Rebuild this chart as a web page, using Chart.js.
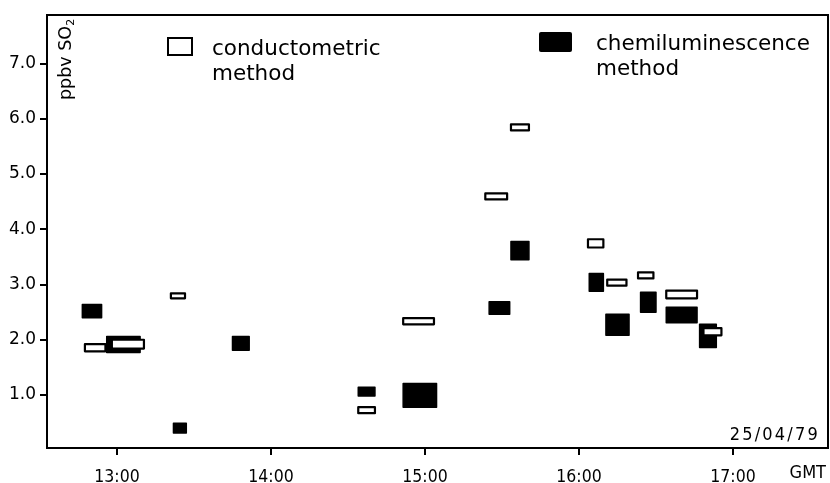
<!DOCTYPE html>
<html><head><meta charset="utf-8">
<script src="https://cdn.jsdelivr.net/npm/chart.js@4.4.0/dist/chart.umd.min.js"></script>
<style>
html,body{margin:0;padding:0;background:#fff;}
#wrap{position:relative;width:830px;height:483px;overflow:hidden;}
canvas{position:absolute;left:0;top:0;}
.t{position:absolute;color:#000;white-space:nowrap;font-family:"DejaVu Sans",sans-serif;}
.n{font-family:"DejaVu Sans Condensed","DejaVu Sans",sans-serif;}
</style></head><body>
<div id="wrap">
<canvas id="c" width="830" height="483"></canvas>
<div class="t" id="ylab" style="left:55px;top:100px;font-size:17.5px;line-height:20px;transform:rotate(-90deg);transform-origin:left top;">ppbv SO<sub style="font-size:11px;vertical-align:-3px;">2</sub></div>
<div class="t" style="left:167px;top:37px;width:26px;height:19px;border:2px solid #000;box-sizing:border-box;background:#fff;"></div>
<div class="t" style="left:212px;top:35px;font-size:21.5px;line-height:25px;">conductometric<br>method</div>
<div class="t" style="left:539px;top:32px;width:33px;height:20px;background:#000;border-radius:2px;"></div>
<div class="t" style="left:596px;top:30px;font-size:21.5px;line-height:25px;">chemiluminescence<br>method</div>
<div class="t n" style="right:10px;top:425px;font-size:18px;line-height:18px;letter-spacing:2.2px;">25/04/79</div>
<div class="t n" style="right:4px;top:463px;font-size:18px;line-height:18px;">GMT</div>
</div>
<script>
// Conductometric method (open boxes): time span and SO2 range (ppbv)
const condStart = ["12:47.5","12:58","13:21","14:34","14:51.5","15:23.5","15:33.5","16:03.5","16:11","16:23","16:34","16:48.5"];
const condEnd   = ["12:55.5","13:10.5","13:26.5","14:40.5","15:03.5","15:32","15:40.5","16:09.5","16:18.5","16:29","16:46","16:55.5"];
const condLow   = [1.79,1.84,2.75,0.67,2.28,4.54,5.79,3.67,2.98,3.11,2.75,2.08];
const condHigh  = [1.92,2.00,2.84,0.78,2.39,4.65,5.90,3.82,3.09,3.22,2.89,2.21];
// Chemiluminescence method (filled boxes)
const chemStart = ["12:46.5","12:56","13:22","13:45","14:34","14:51.5","15:25","15:33.5","16:04","16:10.5","16:24","16:34","16:47"];
const chemEnd   = ["12:54","13:09","13:27","13:51.5","14:40.5","15:04.5","15:33","15:40.5","16:09.5","16:19.5","16:30","16:46","16:53.5"];
const chemLow   = [2.40,1.77,0.31,1.81,0.98,0.78,2.46,3.45,2.88,2.08,2.50,2.31,1.86];
const chemHigh  = [2.64,2.06,0.49,2.06,1.14,1.21,2.69,3.78,3.20,2.46,2.86,2.59,2.28];
// Axis ticks
const xTickHours = [13,14,15,16,17];
const xTickLabels = ["13:00","14:00","15:00","16:00","17:00"];
const yTickValues = [1,2,3,4,5,6,7];

function toH(s){const p=s.split(':');return (+p[0]) + (+p[1])/60;}
function boxPts(s,e,lo,hi){const a=toH(s),b=toH(e);return [{x:a,y:lo},{x:b,y:lo},{x:b,y:hi},{x:a,y:hi},{x:a,y:lo}];}

const datasets=[];
condStart.forEach((s,i)=>{
  datasets.push({label:'conductometric method',data:boxPts(s,condEnd[i],condLow[i],condHigh[i]),
    showLine:true,fill:'shape',backgroundColor:'#fff',borderColor:'#000',borderWidth:2.2,
    borderJoinStyle:'round',pointRadius:0,tension:0,order:0});
});
chemStart.forEach((s,i)=>{
  datasets.push({label:'chemiluminescence method',data:boxPts(s,chemEnd[i],chemLow[i],chemHigh[i]),
    showLine:true,fill:'shape',backgroundColor:'#000',borderColor:'#000',borderWidth:1.5,
    borderJoinStyle:'round',pointRadius:0,tension:0,order:1});
});

const XMIN=12.5455, XMAX=17.617, YMIN=0.04, YMAX=7.88;
const tickFontX={family:'"DejaVu Sans Condensed","DejaVu Sans",sans-serif',size:17.5};
new Chart(document.getElementById('c'),{
  type:'scatter',
  data:{datasets},
  options:{
    responsive:false,animation:false,
    layout:{padding:0},
    plugins:{legend:{display:false},tooltip:{enabled:false}},
    scales:{
      x:{type:'linear',position:'bottom',min:XMIN,max:XMAX,
        afterBuildTicks:s=>{s.ticks=xTickHours.map(v=>({value:v}));},
        afterFit:s=>{s.height=35;},
        ticks:{callback:(v)=>xTickLabels[xTickHours.indexOf(v)],color:'#000',font:tickFontX,padding:12,maxRotation:0,autoSkip:false},
        grid:{display:true,drawOnChartArea:false,drawTicks:true,tickLength:7,color:'#000',lineWidth:2},
        border:{display:true,color:'#000',width:2}},
      y:{type:'linear',position:'left',min:YMIN,max:YMAX,
        afterBuildTicks:s=>{s.ticks=yTickValues.map(v=>({value:v}));},
        afterFit:s=>{s.width=47;},
        ticks:{callback:(v)=>v.toFixed(1),color:'#000',font:{family:'"DejaVu Sans",sans-serif',size:17},padding:4},
        grid:{display:true,drawOnChartArea:false,drawTicks:true,tickLength:7,color:'#000',lineWidth:2},
        border:{display:true,color:'#000',width:2}},
      x2:{type:'linear',axis:'x',position:'top',min:XMIN,max:XMAX,
        afterFit:s=>{s.height=15;},
        ticks:{display:false},
        grid:{display:true,drawOnChartArea:false,drawTicks:false},
        border:{display:true,color:'#000',width:2}},
      y2:{type:'linear',axis:'y',position:'right',min:YMIN,max:YMAX,
        afterFit:s=>{s.width=2;},
        ticks:{display:false},
        grid:{display:true,drawOnChartArea:false,drawTicks:false},
        border:{display:true,color:'#000',width:2}}
    }
  }
});
</script>
</body></html>
